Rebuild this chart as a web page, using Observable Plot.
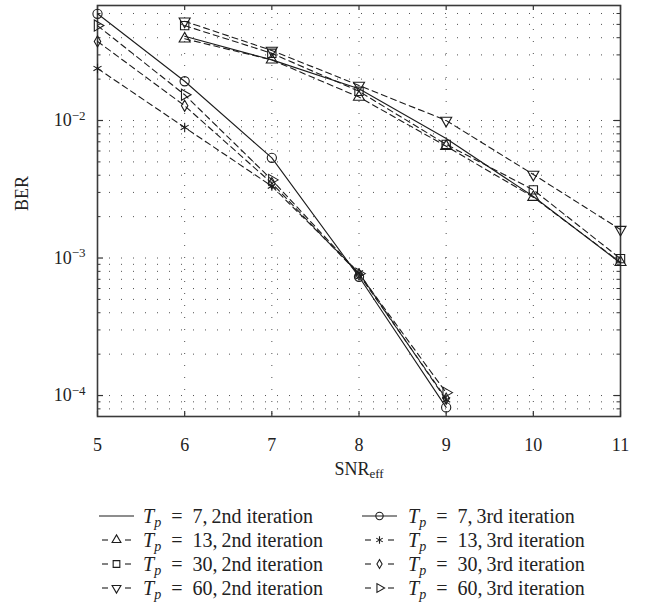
<!DOCTYPE html>
<html><head><meta charset="utf-8">
<script src="https://cdn.jsdelivr.net/npm/d3@7"></script>
<script src="https://cdn.jsdelivr.net/npm/@observablehq/plot@0.6"></script>
<style>
body{margin:0;background:#fff;font-family:"Liberation Serif","Times New Roman",serif;}
#wrap{position:relative;width:645px;height:611px;background:#fff;}
.leg{position:absolute;font-size:20px;color:#222;white-space:nowrap;line-height:1;font-family:"Liberation Serif","Times New Roman",serif;}
.leg svg{position:absolute;}
.leg span.t{position:absolute;top:-10px;}
</style></head><body><div id="wrap"></div>
<script>
// ---- data ----
const snr3rd = [5, 6, 7, 8, 9];
const snr2nd = [6, 7, 8, 9, 10, 11];
const tp7_2nd  = [0.041, 0.0276, 0.0170, 0.0074, 0.0028, 0.00092];
const tp13_2nd = [0.0393, 0.0276, 0.0148, 0.0065, 0.00277, 0.00093];
const tp30_2nd = [0.049, 0.0308, 0.0163, 0.0067, 0.00313, 0.00099];
const tp60_2nd = [0.0527, 0.0323, 0.0180, 0.0100, 0.00405, 0.00161];
const tp7_3rd  = [0.0597, 0.0193, 0.00535, 0.00073, 0.000082];
const tp13_3rd = [0.0239, 0.0089, 0.00333, 0.00078, 0.000093];
const tp30_3rd = [0.0376, 0.0128, 0.0035, 0.00076, 0.000095];
const tp60_3rd = [0.049, 0.0154, 0.0037, 0.00077, 0.000105];
const xTicks = [5, 6, 7, 8, 9, 10, 11];
const yMajor = [1e-2, 1e-3, 1e-4];
const yMinor = [2e-2,3e-2,4e-2,5e-2,6e-2, 2e-3,3e-3,4e-3,5e-3,6e-3,7e-3,8e-3,9e-3, 2e-4,3e-4,4e-4,5e-4,6e-4,7e-4,8e-4,9e-4, 8e-5,9e-5];
const legendTp = ["7","7","13","13","30","30","60","60"];
const legendIter = ["2nd iteration","3rd iteration","2nd iteration","3rd iteration","2nd iteration","3rd iteration","2nd iteration","3rd iteration"];

const series = [
  {name:"tp7_2nd", xs:snr2nd, ys:tp7_2nd, dashed:false, sym:null},
  {name:"tp7_3rd", xs:snr3rd, ys:tp7_3rd, dashed:false, sym:"circle", rot:0, r:4.6},
  {name:"tp13_2nd", xs:snr2nd, ys:tp13_2nd, dashed:true, sym:"triangle", rot:0, r:4.1},
  {name:"tp13_3rd", xs:snr3rd, ys:tp13_3rd, dashed:true, sym:"asterisk", rot:0, r:4.4},
  {name:"tp30_2nd", xs:snr2nd, ys:tp30_2nd, dashed:true, sym:"square", rot:0, r:4.7},
  {name:"tp30_3rd", xs:snr3rd, ys:tp30_3rd, dashed:true, sym:"diamond", rot:0, r:3.4},
  {name:"tp60_2nd", xs:snr2nd, ys:tp60_2nd, dashed:true, sym:"triangle", rot:180, r:4.1},
  {name:"tp60_3rd", xs:snr3rd, ys:tp60_3rd, dashed:true, sym:"triangle", rot:90, r:4.1}
];
const rows = series.flatMap(s => s.xs.map((x, i) => ({name: s.name, x, y: s.ys[i], dashed: s.dashed})));

const W = 645, H = 490, mL = 97, mR = 25, mT = 5, mB = 74;
const pW = W - mL - mR, pH = H - mT - mB;
const ink = "#1c1c1c";
const FF = "'Liberation Serif', 'Times New Roman', serif";
const sup = {"⁻":"−","²":"2","³":"3","⁴":"4"};
const fmtPow = d => "10" + ("⁻" + "⁰¹²³⁴⁵⁶⁷⁸⁹"[Math.round(-Math.log10(d))]);

const marks = [
  Plot.gridX(xTicks.slice(1, -1), {stroke: "#333", strokeOpacity: 0.85, strokeDasharray: "1,11", strokeWidth: 1}),
  Plot.gridY(yMajor.concat(yMinor), {stroke: "#333", strokeOpacity: 0.85, strokeDasharray: "1,11", strokeWidth: 1}),
  // inward ticks
  Plot.tickX(xTicks, {x: d => d, insetBottom: pH - 5, stroke: "#333", strokeWidth: 1.2}),
  Plot.tickX(xTicks, {x: d => d, insetTop: pH - 5, stroke: "#333", strokeWidth: 1.2}),
  Plot.tickY(yMajor, {y: d => d, insetRight: pW - 6, stroke: "#333", strokeWidth: 1.2}),
  Plot.tickY(yMajor, {y: d => d, insetLeft: pW - 6, stroke: "#333", strokeWidth: 1.2}),
  Plot.tickY(yMinor, {y: d => d, insetRight: pW - 3.5, stroke: "#333", strokeWidth: 1}),
  Plot.tickY(yMinor, {y: d => d, insetLeft: pW - 3.5, stroke: "#333", strokeWidth: 1}),
  Plot.frame({stroke: "#3a3a3a", strokeWidth: 1.6}),
  Plot.line(rows, {filter: d => !d.dashed, x: "x", y: "y", z: "name", stroke: ink, strokeWidth: 1.1}),
  Plot.line(rows, {filter: d => d.dashed, x: "x", y: "y", z: "name", stroke: ink, strokeWidth: 1.1, strokeDasharray: "6,4"}),
  ...series.filter(s => s.sym).map(s =>
    Plot.dot(rows.filter(d => d.name === s.name), {x: "x", y: "y", symbol: s.sym, rotate: s.rot, r: s.r, stroke: ink, fill: "none", strokeWidth: 1.1})),
  Plot.axisX({ticks: xTicks, tickSize: 0, tickPadding: 22, label: null, fontSize: 18, fontFamily: FF, tickFormat: d3.format("d")}),
  Plot.axisY({ticks: yMajor, tickSize: 0, tickPadding: 12, label: null, tickFormat: fmtPow, fontSize: 18, fontFamily: FF}),
  Plot.text(["SNReff"], {frameAnchor: "bottom", text: d => d, dy: 58, fontSize: 18, fontFamily: FF}),
  Plot.text(["BER"], {frameAnchor: "left", text: d => d, rotate: -90, dx: -75, fontSize: 18, fontFamily: FF})
];

const fig = Plot.plot({
  width: W, height: H, marginLeft: mL, marginRight: mR, marginTop: mT, marginBottom: mB,
  x: {domain: [5, 11]},
  y: {type: "log", domain: [7.04e-5, 0.0686]},
  style: {fontFamily: FF, fontSize: "18px", color: "#222", background: "white"},
  marks
});

// typographic post-processing (superscripts / subscripts)
fig.querySelectorAll("text").forEach(t => {
  const s = t.textContent;
  if (/^10⁻/.test(s)) {
    const e = s.slice(2).split("").map(c => sup[c] ?? c).join("");
    t.textContent = "10";
    const ts = document.createElementNS("http://www.w3.org/2000/svg", "tspan");
    ts.setAttribute("dy", "-0.5em"); ts.setAttribute("font-size", "13");
    ts.textContent = e; t.appendChild(ts);
  } else if (s === "SNReff") {
    t.textContent = "SNR";
    const ts = document.createElementNS("http://www.w3.org/2000/svg", "tspan");
    ts.setAttribute("dy", "0.3em"); ts.setAttribute("font-size", "13");
    ts.textContent = "eff"; t.appendChild(ts);
  }
});

const wrap = document.getElementById("wrap");
wrap.appendChild(fig);

// legend (HTML below the SVG)
const rowsY = [516, 540, 564, 588];
const cols = [{x0: 99, tx: 143}, {x0: 362, tx: 408}];
const order = [[0,1],[2,3],[4,5],[6,7]];
const symMap = {circle: d3.symbolCircle, triangle: d3.symbolTriangle, asterisk: d3.symbolAsterisk, square: d3.symbolSquare, diamond: d3.symbolDiamond};
order.forEach((pair, ri) => pair.forEach((si, ci) => {
  const s = series[si];
  const div = document.createElement("div");
  div.className = "leg";
  div.style.left = "0px"; div.style.top = rowsY[ri] + "px";
  const c = cols[ci];
  const svg = d3.create("svg").attr("width", 40).attr("height", 16)
    .style("left", c.x0 + "px").style("top", "-8px").style("overflow", "visible");
  if (!s.dashed) {
    svg.append("line").attr("x1", 0).attr("x2", 35).attr("y1", 8).attr("y2", 8).attr("stroke", ink).attr("stroke-width", 1.1);
  } else {
    svg.append("line").attr("x1", 3).attr("x2", 9).attr("y1", 8).attr("y2", 8).attr("stroke", ink).attr("stroke-width", 1.1);
    svg.append("line").attr("x1", 26).attr("x2", 32).attr("y1", 8).attr("y2", 8).attr("stroke", ink).attr("stroke-width", 1.1);
  }
  if (s.sym) {
    const size = Math.PI * (s.r * 0.8) ** 2;
    svg.append("path").attr("d", d3.symbol(symMap[s.sym], size)())
      .attr("transform", `translate(17.5,8) rotate(${s.rot})`)
      .attr("fill", "none").attr("stroke", ink).attr("stroke-width", 1.1);
  }
  div.appendChild(svg.node());
  const sp = document.createElement("span");
  sp.className = "t"; sp.style.left = c.tx + "px";
  sp.innerHTML = `<i>T</i><sub style="font-size:14px;vertical-align:-4px"><i>p</i></sub>&ensp;=&ensp;${legendTp[si]},&thinsp;${legendIter[si]}`;
  div.appendChild(sp);
  wrap.appendChild(div);
}));
</script></body></html>
